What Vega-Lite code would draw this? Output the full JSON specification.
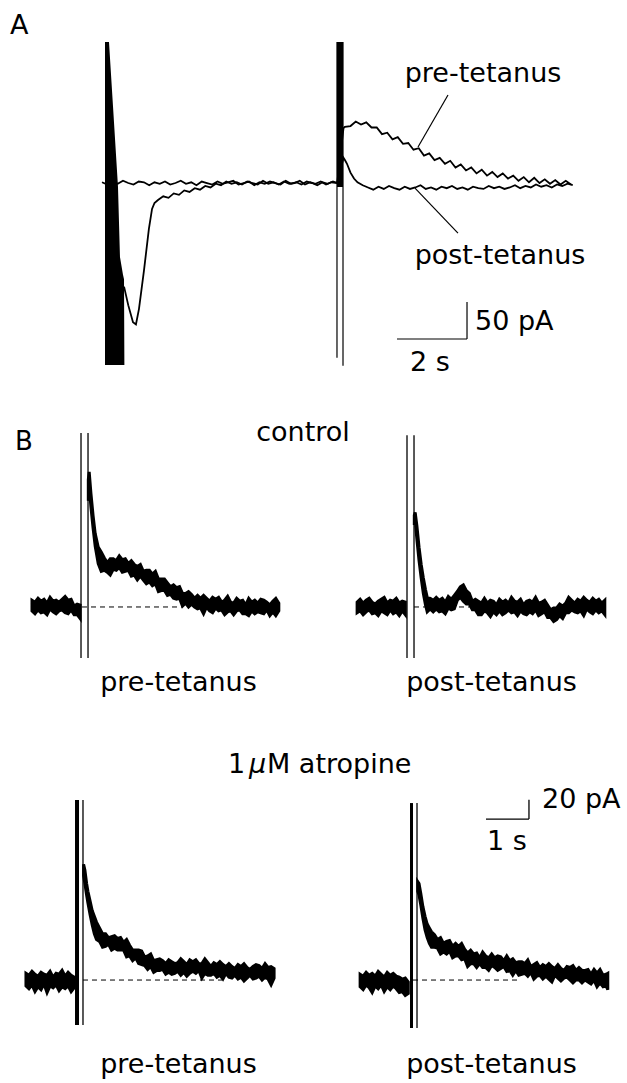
{
"$schema":"https://vega.github.io/schema/vega-lite/v6.json",
"padding":0,
"background":"white",
"spacing":0,
"bounds":"full",
"config":{"view":{"stroke":null},"text":{"font":"DejaVu Sans"}},
"datasets":{
"A_line":[
{"tr":"pre","t":0,"i":1},{"tr":"pre","t":0.15,"i":-2},{"tr":"pre","t":0.3,"i":2},{"tr":"pre","t":0.45,"i":-1},{"tr":"pre","t":0.6,"i":3},{"tr":"pre","t":0.75,"i":0},{"tr":"pre","t":0.9,"i":-2},{"tr":"pre","t":1.05,"i":2},{"tr":"pre","t":1.2,"i":1},{"tr":"pre","t":1.35,"i":-3},{"tr":"pre","t":1.5,"i":1},{"tr":"pre","t":1.65,"i":-1},{"tr":"pre","t":1.8,"i":2},{"tr":"pre","t":1.95,"i":-2},{"tr":"pre","t":2.1,"i":0},{"tr":"pre","t":2.25,"i":3},{"tr":"pre","t":2.4,"i":-1},{"tr":"pre","t":2.55,"i":1},{"tr":"pre","t":2.7,"i":-3},{"tr":"pre","t":2.85,"i":2},{"tr":"pre","t":3,"i":0},{"tr":"pre","t":3.15,"i":-2},{"tr":"pre","t":3.3,"i":2},{"tr":"pre","t":3.45,"i":-1},{"tr":"pre","t":3.6,"i":1},{"tr":"pre","t":3.75,"i":3},{"tr":"pre","t":3.9,"i":-2},{"tr":"pre","t":4.05,"i":0},{"tr":"pre","t":4.2,"i":2},{"tr":"pre","t":4.35,"i":-3},{"tr":"pre","t":4.5,"i":1},{"tr":"pre","t":4.65,"i":-1},{"tr":"pre","t":4.8,"i":2},{"tr":"pre","t":4.95,"i":0},{"tr":"pre","t":5.1,"i":-2},{"tr":"pre","t":5.25,"i":3},{"tr":"pre","t":5.4,"i":-1},{"tr":"pre","t":5.55,"i":1},{"tr":"pre","t":5.7,"i":-2},{"tr":"pre","t":5.85,"i":2},{"tr":"pre","t":6,"i":0},{"tr":"pre","t":6.15,"i":-3},{"tr":"pre","t":6.3,"i":1},{"tr":"pre","t":6.45,"i":-1},{"tr":"pre","t":6.6,"i":2},{"tr":"pre","t":6.72,"i":0},{"tr":"pre","t":6.9,"i":74},
{"tr":"pre","t":6.94,"i":76},{"tr":"pre","t":7.1,"i":77},{"tr":"pre","t":7.25,"i":83},{"tr":"pre","t":7.4,"i":79},{"tr":"pre","t":7.55,"i":82},{"tr":"pre","t":7.7,"i":75},{"tr":"pre","t":7.85,"i":75},{"tr":"pre","t":8,"i":66},{"tr":"pre","t":8.15,"i":68},{"tr":"pre","t":8.3,"i":59},{"tr":"pre","t":8.45,"i":62},{"tr":"pre","t":8.6,"i":53},{"tr":"pre","t":8.75,"i":54},{"tr":"pre","t":8.9,"i":45},{"tr":"pre","t":9.05,"i":47},{"tr":"pre","t":9.2,"i":37},{"tr":"pre","t":9.35,"i":40},{"tr":"pre","t":9.5,"i":31},{"tr":"pre","t":9.65,"i":34},{"tr":"pre","t":9.8,"i":26},{"tr":"pre","t":9.95,"i":30},{"tr":"pre","t":10.1,"i":21},{"tr":"pre","t":10.25,"i":25},{"tr":"pre","t":10.4,"i":17},{"tr":"pre","t":10.55,"i":21},{"tr":"pre","t":10.7,"i":13},{"tr":"pre","t":10.85,"i":18},{"tr":"pre","t":11,"i":10},{"tr":"pre","t":11.15,"i":15},{"tr":"pre","t":11.3,"i":8},{"tr":"pre","t":11.45,"i":13},{"tr":"pre","t":11.6,"i":6},{"tr":"pre","t":11.75,"i":10},{"tr":"pre","t":11.9,"i":3},{"tr":"pre","t":12.05,"i":8},{"tr":"pre","t":12.2,"i":1},{"tr":"pre","t":12.35,"i":7},{"tr":"pre","t":12.5,"i":0},{"tr":"pre","t":12.65,"i":5},{"tr":"pre","t":12.8,"i":-1},{"tr":"pre","t":12.95,"i":4},{"tr":"pre","t":13.1,"i":-2},{"tr":"pre","t":13.25,"i":3},{"tr":"pre","t":13.4,"i":-2},
{"tr":"post","t":0.63,"i":-140},{"tr":"post","t":0.75,"i":-165},{"tr":"post","t":0.886,"i":-188},{"tr":"post","t":0.97,"i":-191},{"tr":"post","t":1.057,"i":-170},{"tr":"post","t":1.2,"i":-118},{"tr":"post","t":1.34,"i":-62},{"tr":"post","t":1.43,"i":-35},{"tr":"post","t":1.5,"i":-27},{"tr":"post","t":1.6,"i":-23},{"tr":"post","t":1.75,"i":-18},{"tr":"post","t":1.9,"i":-20},{"tr":"post","t":2.05,"i":-14},{"tr":"post","t":2.2,"i":-16},{"tr":"post","t":2.35,"i":-10},{"tr":"post","t":2.5,"i":-12},{"tr":"post","t":2.65,"i":-7},{"tr":"post","t":2.8,"i":-9},{"tr":"post","t":2.95,"i":-4},{"tr":"post","t":3.1,"i":-6},{"tr":"post","t":3.25,"i":-1},{"tr":"post","t":3.4,"i":-3},{"tr":"post","t":3.55,"i":2},{"tr":"post","t":3.7,"i":-1},{"tr":"post","t":3.85,"i":1},{"tr":"post","t":4,"i":-2},{"tr":"post","t":4.15,"i":2},{"tr":"post","t":4.3,"i":0},{"tr":"post","t":4.45,"i":-2},{"tr":"post","t":4.6,"i":3},{"tr":"post","t":4.75,"i":-1},{"tr":"post","t":4.9,"i":1},{"tr":"post","t":5.05,"i":-2},{"tr":"post","t":5.2,"i":2},{"tr":"post","t":5.35,"i":-1},{"tr":"post","t":5.5,"i":0},{"tr":"post","t":5.65,"i":3},{"tr":"post","t":5.8,"i":-2},{"tr":"post","t":5.95,"i":1},{"tr":"post","t":6.1,"i":-1},{"tr":"post","t":6.25,"i":2},{"tr":"post","t":6.4,"i":-2},{"tr":"post","t":6.55,"i":1},{"tr":"post","t":6.72,"i":0},{"tr":"post","t":6.9,"i":34},{"tr":"post","t":6.94,"i":31},{"tr":"post","t":7,"i":26},{"tr":"post","t":7.1,"i":14},{"tr":"post","t":7.2,"i":6},{"tr":"post","t":7.3,"i":1},{"tr":"post","t":7.45,"i":-3},{"tr":"post","t":7.6,"i":-6},{"tr":"post","t":7.75,"i":-9},{"tr":"post","t":7.9,"i":-5},{"tr":"post","t":8.05,"i":-8},{"tr":"post","t":8.2,"i":-4},{"tr":"post","t":8.35,"i":-7},{"tr":"post","t":8.5,"i":-9},{"tr":"post","t":8.65,"i":-5},{"tr":"post","t":8.8,"i":-8},{"tr":"post","t":8.95,"i":-6},{"tr":"post","t":9.1,"i":-3},{"tr":"post","t":9.25,"i":-8},{"tr":"post","t":9.4,"i":-6},{"tr":"post","t":9.55,"i":-9},{"tr":"post","t":9.7,"i":-5},{"tr":"post","t":9.85,"i":-7},{"tr":"post","t":10,"i":-4},{"tr":"post","t":10.15,"i":-8},{"tr":"post","t":10.3,"i":-6},{"tr":"post","t":10.45,"i":-9},{"tr":"post","t":10.6,"i":-5},{"tr":"post","t":10.75,"i":-7},{"tr":"post","t":10.9,"i":-8},{"tr":"post","t":11.05,"i":-4},{"tr":"post","t":11.2,"i":-7},{"tr":"post","t":11.35,"i":-5},{"tr":"post","t":11.5,"i":-8},{"tr":"post","t":11.65,"i":-6},{"tr":"post","t":11.8,"i":-3},{"tr":"post","t":11.95,"i":-7},{"tr":"post","t":12.1,"i":-4},{"tr":"post","t":12.25,"i":-6},{"tr":"post","t":12.4,"i":-2},{"tr":"post","t":12.55,"i":-5},{"tr":"post","t":12.7,"i":-3},{"tr":"post","t":12.85,"i":-6},{"tr":"post","t":13,"i":-2},{"tr":"post","t":13.15,"i":-4},{"tr":"post","t":13.3,"i":-1},{"tr":"post","t":13.45,"i":-3}
],
"A_art1":[{"t":0.086,"top":190.5,"bot":-246},{"t":0.2,"top":190.5,"bot":-246},{"t":0.314,"top":104,"bot":-246},{"t":0.457,"top":-5,"bot":-246},{"t":0.514,"top":-100,"bot":-246},{"t":0.6,"top":-124,"bot":-246},{"t":0.629,"top":-130,"bot":-246},{"t":0.64,"top":-246,"bot":-246}],
"A_rect":[{"t":6.714,"t2":6.886,"i":190.5,"i2":-5.4}],
"A_seg":[{"t":6.714,"t2":6.714,"i":190.5,"i2":-236},{"t":6.886,"t2":6.886,"i":190.5,"i2":-247},{"t":8.429,"t2":10.429,"i":-210.8,"i2":-210.8},{"t":10.429,"t2":10.429,"i":-160.8,"i2":-210.8},{"t":9.886,"t2":9.029,"i":118.9,"i2":48.6},{"t":8.943,"t2":10.171,"i":-6.8,"i2":-67.6}],
"A_tc":[{"label":"pre-tetanus","t":10.886,"i":136.5},{"label":"post-tetanus","t":11.371,"i":-109.5}],
"A_tl":[{"label":"A","t":-2.629,"i":201.4},{"label":"50 pA","t":10.657,"i":-198.6},{"label":"2 s","t":8.8,"i":-254}],
"CL_band":[
{"s":"a","t":-1.14,"lo":-4,"hi":7},{"s":"a","t":-1.07,"lo":-7,"hi":5},{"s":"a","t":-1.0,"lo":-3,"hi":9},{"s":"a","t":-0.93,"lo":-6,"hi":6},{"s":"a","t":-0.86,"lo":-5,"hi":8},{"s":"a","t":-0.79,"lo":-8,"hi":4},{"s":"a","t":-0.72,"lo":-2,"hi":10},{"s":"a","t":-0.65,"lo":-5,"hi":6},{"s":"a","t":-0.58,"lo":-7,"hi":7},{"s":"a","t":-0.51,"lo":-4,"hi":5},{"s":"a","t":-0.44,"lo":-3,"hi":8},{"s":"a","t":-0.37,"lo":-6,"hi":11},{"s":"a","t":-0.3,"lo":-7,"hi":7},{"s":"a","t":-0.23,"lo":-3,"hi":8},{"s":"a","t":-0.16,"lo":-8,"hi":1},{"s":"a","t":-0.09,"lo":-8,"hi":3},{"s":"a","t":-0.02,"lo":-12,"hi":2},
{"s":"b","t":0.17,"lo":110,"hi":132},{"s":"b","t":0.19,"lo":125,"hi":140},{"s":"b","t":0.23,"lo":104,"hi":118},{"s":"b","t":0.28,"lo":82,"hi":95},{"s":"b","t":0.33,"lo":63,"hi":76},{"s":"b","t":0.4,"lo":45,"hi":62},{"s":"b","t":0.47,"lo":37,"hi":57},{"s":"b","t":0.54,"lo":38,"hi":51},{"s":"b","t":0.61,"lo":36,"hi":46},{"s":"b","t":0.68,"lo":33,"hi":50},{"s":"b","t":0.75,"lo":39,"hi":50},{"s":"b","t":0.82,"lo":38,"hi":48},{"s":"b","t":0.89,"lo":41,"hi":53},{"s":"b","t":0.96,"lo":36,"hi":49},{"s":"b","t":1.03,"lo":37,"hi":50},{"s":"b","t":1.1,"lo":38,"hi":45},{"s":"b","t":1.17,"lo":32,"hi":48},{"s":"b","t":1.24,"lo":33,"hi":44},{"s":"b","t":1.31,"lo":28,"hi":42},{"s":"b","t":1.38,"lo":32,"hi":44},{"s":"b","t":1.45,"lo":28,"hi":37},{"s":"b","t":1.52,"lo":24,"hi":38},{"s":"b","t":1.59,"lo":26,"hi":38},{"s":"b","t":1.66,"lo":22,"hi":34},{"s":"b","t":1.73,"lo":24,"hi":37},{"s":"b","t":1.8,"lo":16,"hi":29},{"s":"b","t":1.87,"lo":17,"hi":29},{"s":"b","t":1.94,"lo":17,"hi":29},{"s":"b","t":2.01,"lo":12,"hi":25},{"s":"b","t":2.08,"lo":13,"hi":21},{"s":"b","t":2.15,"lo":9,"hi":23},{"s":"b","t":2.22,"lo":8,"hi":20},{"s":"b","t":2.29,"lo":9,"hi":21},{"s":"b","t":2.36,"lo":1,"hi":14},{"s":"b","t":2.43,"lo":4,"hi":14},{"s":"b","t":2.5,"lo":0,"hi":16},{"s":"b","t":2.57,"lo":3,"hi":13},{"s":"b","t":2.64,"lo":0,"hi":9},{"s":"b","t":2.71,"lo":-2,"hi":12},{"s":"b","t":2.78,"lo":-1,"hi":9},{"s":"b","t":2.85,"lo":-7,"hi":12},{"s":"b","t":2.92,"lo":0,"hi":9},{"s":"b","t":2.99,"lo":-4,"hi":6},{"s":"b","t":3.06,"lo":-6,"hi":10},{"s":"b","t":3.13,"lo":-1,"hi":8},{"s":"b","t":3.2,"lo":-4,"hi":10},{"s":"b","t":3.27,"lo":-3,"hi":5},{"s":"b","t":3.34,"lo":-8,"hi":7},{"s":"b","t":3.41,"lo":-5,"hi":11},{"s":"b","t":3.48,"lo":-4,"hi":5},{"s":"b","t":3.55,"lo":-8,"hi":4},{"s":"b","t":3.62,"lo":-4,"hi":9},{"s":"b","t":3.69,"lo":-3,"hi":6},{"s":"b","t":3.76,"lo":-7,"hi":7},{"s":"b","t":3.83,"lo":-7,"hi":2},{"s":"b","t":3.9,"lo":-9,"hi":9},{"s":"b","t":3.97,"lo":-4,"hi":5},{"s":"b","t":4.04,"lo":-7,"hi":7},{"s":"b","t":4.11,"lo":-5,"hi":4},{"s":"b","t":4.18,"lo":-6,"hi":8},{"s":"b","t":4.25,"lo":-7,"hi":7},{"s":"b","t":4.32,"lo":-3,"hi":5},{"s":"b","t":4.39,"lo":-9,"hi":2},{"s":"b","t":4.46,"lo":-5,"hi":6},{"s":"b","t":4.53,"lo":-9,"hi":9},{"s":"b","t":4.6,"lo":-4,"hi":4}
],
"CL_seg":[{"t":0,"t2":0,"i":180.3,"i2":-52.8},{"t":0.163,"t2":0.163,"i":180.3,"i2":-52.8}],
"CL_dash":[{"t":0.023,"t2":2.35,"i":0,"i2":0}],
"CL_tc":[{"label":"control","t":5.163,"i":172},{"label":"pre-tetanus","t":2.267,"i":-87}],
"CL_tl":[{"label":"B","t":-1.535,"i":162.7}],
"CR_band":[
{"s":"a","t":-1.16,"lo":-6,"hi":5},{"s":"a","t":-1.09,"lo":-4,"hi":8},{"s":"a","t":-1.02,"lo":-8,"hi":4},{"s":"a","t":-0.95,"lo":-5,"hi":7},{"s":"a","t":-0.88,"lo":-3,"hi":9},{"s":"a","t":-0.81,"lo":-7,"hi":5},{"s":"a","t":-0.74,"lo":-6,"hi":3},{"s":"a","t":-0.67,"lo":-9,"hi":6},{"s":"a","t":-0.6,"lo":-4,"hi":8},{"s":"a","t":-0.53,"lo":-6,"hi":10},{"s":"a","t":-0.46,"lo":-8,"hi":4},{"s":"a","t":-0.39,"lo":-3,"hi":7},{"s":"a","t":-0.32,"lo":-7,"hi":6},{"s":"a","t":-0.25,"lo":-5,"hi":9},{"s":"a","t":-0.18,"lo":-9,"hi":4},{"s":"a","t":-0.11,"lo":-4,"hi":6},{"s":"a","t":-0.04,"lo":-8,"hi":5},
{"s":"b","t":0.17,"lo":85,"hi":95},{"s":"b","t":0.19,"lo":90,"hi":98},{"s":"b","t":0.23,"lo":70,"hi":84},{"s":"b","t":0.28,"lo":48,"hi":62},{"s":"b","t":0.33,"lo":30,"hi":44},{"s":"b","t":0.38,"lo":14,"hi":30},{"s":"b","t":0.43,"lo":2,"hi":18},{"s":"b","t":0.47,"lo":-5,"hi":10},{"s":"b","t":0.54,"lo":-2,"hi":9},{"s":"b","t":0.61,"lo":-5,"hi":7},{"s":"b","t":0.68,"lo":-2,"hi":10},{"s":"b","t":0.75,"lo":-5,"hi":7},{"s":"b","t":0.82,"lo":-4,"hi":9},{"s":"b","t":0.89,"lo":-7,"hi":5},{"s":"b","t":0.96,"lo":-1,"hi":11},{"s":"b","t":1.03,"lo":-3,"hi":8},{"s":"b","t":1.1,"lo":-2,"hi":12},{"s":"b","t":1.17,"lo":7,"hi":16},{"s":"b","t":1.24,"lo":10,"hi":21},{"s":"b","t":1.31,"lo":6,"hi":23},{"s":"b","t":1.38,"lo":3,"hi":17},{"s":"b","t":1.45,"lo":3,"hi":14},{"s":"b","t":1.52,"lo":-3,"hi":6},{"s":"b","t":1.59,"lo":-3,"hi":8},{"s":"b","t":1.66,"lo":-8,"hi":6},{"s":"b","t":1.73,"lo":-8,"hi":4},{"s":"b","t":1.8,"lo":-4,"hi":9},{"s":"b","t":1.87,"lo":-6,"hi":4},{"s":"b","t":1.94,"lo":-10,"hi":7},{"s":"b","t":2.01,"lo":-5,"hi":6},{"s":"b","t":2.08,"lo":-8,"hi":2},{"s":"b","t":2.15,"lo":-4,"hi":8},{"s":"b","t":2.22,"lo":-8,"hi":5},{"s":"b","t":2.29,"lo":-6,"hi":7},{"s":"b","t":2.36,"lo":-3,"hi":4},{"s":"b","t":2.43,"lo":-6,"hi":10},{"s":"b","t":2.5,"lo":-5,"hi":6},{"s":"b","t":2.57,"lo":-9,"hi":5},{"s":"b","t":2.64,"lo":-4,"hi":8},{"s":"b","t":2.71,"lo":-7,"hi":2},{"s":"b","t":2.78,"lo":-8,"hi":6},{"s":"b","t":2.85,"lo":-5,"hi":7},{"s":"b","t":2.92,"lo":-7,"hi":5},{"s":"b","t":2.99,"lo":-3,"hi":10},{"s":"b","t":3.06,"lo":-9,"hi":4},{"s":"b","t":3.13,"lo":-7,"hi":5},{"s":"b","t":3.2,"lo":-5,"hi":7},{"s":"b","t":3.27,"lo":-11,"hi":2},{"s":"b","t":3.34,"lo":-11,"hi":-3},{"s":"b","t":3.41,"lo":-15,"hi":-1},{"s":"b","t":3.48,"lo":-13,"hi":-1},{"s":"b","t":3.55,"lo":-9,"hi":3},{"s":"b","t":3.62,"lo":-12,"hi":1},{"s":"b","t":3.69,"lo":-6,"hi":4},{"s":"b","t":3.76,"lo":-6,"hi":10},{"s":"b","t":3.83,"lo":-3,"hi":7},{"s":"b","t":3.9,"lo":-5,"hi":4},{"s":"b","t":3.97,"lo":-6,"hi":8},{"s":"b","t":4.04,"lo":-4,"hi":6},{"s":"b","t":4.11,"lo":-9,"hi":10},{"s":"b","t":4.18,"lo":-2,"hi":7},{"s":"b","t":4.25,"lo":-5,"hi":5},{"s":"b","t":4.32,"lo":-7,"hi":9},{"s":"b","t":4.39,"lo":-3,"hi":6},{"s":"b","t":4.46,"lo":-6,"hi":8},{"s":"b","t":4.53,"lo":-4,"hi":4},{"s":"b","t":4.6,"lo":-8,"hi":7}
],
"CR_seg":[{"t":0,"t2":0,"i":178,"i2":-52.8},{"t":0.163,"t2":0.163,"i":178,"i2":-52.8}],
"CR_dash":[{"t":0.163,"t2":2.4,"i":0,"i2":0}],
"CR_tc":[{"label":"post-tetanus","t":1.965,"i":-87}],
"AL_band":[
{"s":"a","t":-1.14,"lo":-6,"hi":7},{"s":"a","t":-1.07,"lo":-9,"hi":5},{"s":"a","t":-1.0,"lo":-5,"hi":9},{"s":"a","t":-0.93,"lo":-12,"hi":6},{"s":"a","t":-0.86,"lo":-7,"hi":4},{"s":"a","t":-0.79,"lo":-10,"hi":8},{"s":"a","t":-0.72,"lo":-4,"hi":6},{"s":"a","t":-0.65,"lo":-13,"hi":5},{"s":"a","t":-0.58,"lo":-6,"hi":9},{"s":"a","t":-0.51,"lo":-8,"hi":3},{"s":"a","t":-0.44,"lo":-5,"hi":7},{"s":"a","t":-0.37,"lo":-11,"hi":6},{"s":"a","t":-0.3,"lo":-7,"hi":10},{"s":"a","t":-0.23,"lo":-9,"hi":4},{"s":"a","t":-0.16,"lo":-6,"hi":8},{"s":"a","t":-0.09,"lo":-12,"hi":5},{"s":"a","t":-0.02,"lo":-8,"hi":3},
{"s":"b","t":0.2,"lo":108,"hi":120},{"s":"b","t":0.23,"lo":100,"hi":114},{"s":"b","t":0.27,"lo":88,"hi":100},{"s":"b","t":0.3,"lo":80,"hi":92},{"s":"b","t":0.35,"lo":68,"hi":82},{"s":"b","t":0.4,"lo":57,"hi":72},{"s":"b","t":0.45,"lo":48,"hi":66},{"s":"b","t":0.5,"lo":42,"hi":60},{"s":"b","t":0.57,"lo":40,"hi":54},{"s":"b","t":0.64,"lo":34,"hi":48},{"s":"b","t":0.71,"lo":35,"hi":48},{"s":"b","t":0.78,"lo":37,"hi":44},{"s":"b","t":0.85,"lo":31,"hi":45},{"s":"b","t":0.92,"lo":33,"hi":46},{"s":"b","t":0.99,"lo":31,"hi":43},{"s":"b","t":1.06,"lo":31,"hi":44},{"s":"b","t":1.13,"lo":31,"hi":39},{"s":"b","t":1.2,"lo":24,"hi":42},{"s":"b","t":1.27,"lo":25,"hi":36},{"s":"b","t":1.34,"lo":20,"hi":31},{"s":"b","t":1.41,"lo":23,"hi":31},{"s":"b","t":1.48,"lo":17,"hi":31},{"s":"b","t":1.55,"lo":16,"hi":30},{"s":"b","t":1.62,"lo":15,"hi":24},{"s":"b","t":1.69,"lo":11,"hi":25},{"s":"b","t":1.76,"lo":14,"hi":27},{"s":"b","t":1.83,"lo":8,"hi":20},{"s":"b","t":1.9,"lo":10,"hi":21},{"s":"b","t":1.97,"lo":10,"hi":22},{"s":"b","t":2.04,"lo":11,"hi":20},{"s":"b","t":2.11,"lo":6,"hi":17},{"s":"b","t":2.18,"lo":8,"hi":21},{"s":"b","t":2.25,"lo":6,"hi":19},{"s":"b","t":2.32,"lo":7,"hi":17},{"s":"b","t":2.39,"lo":9,"hi":18},{"s":"b","t":2.46,"lo":5,"hi":22},{"s":"b","t":2.53,"lo":8,"hi":19},{"s":"b","t":2.6,"lo":4,"hi":16},{"s":"b","t":2.67,"lo":7,"hi":21},{"s":"b","t":2.74,"lo":9,"hi":19},{"s":"b","t":2.81,"lo":7,"hi":21},{"s":"b","t":2.88,"lo":10,"hi":17},{"s":"b","t":2.95,"lo":2,"hi":17},{"s":"b","t":3.02,"lo":7,"hi":22},{"s":"b","t":3.09,"lo":5,"hi":18},{"s":"b","t":3.16,"lo":5,"hi":14},{"s":"b","t":3.23,"lo":7,"hi":18},{"s":"b","t":3.3,"lo":3,"hi":16},{"s":"b","t":3.37,"lo":5,"hi":19},{"s":"b","t":3.44,"lo":1,"hi":16},{"s":"b","t":3.51,"lo":7,"hi":14},{"s":"b","t":3.58,"lo":3,"hi":17},{"s":"b","t":3.65,"lo":2,"hi":14},{"s":"b","t":3.72,"lo":5,"hi":12},{"s":"b","t":3.79,"lo":1,"hi":16},{"s":"b","t":3.86,"lo":3,"hi":14},{"s":"b","t":3.93,"lo":-1,"hi":17},{"s":"b","t":4.0,"lo":2,"hi":13},{"s":"b","t":4.07,"lo":5,"hi":11},{"s":"b","t":4.14,"lo":1,"hi":14},{"s":"b","t":4.21,"lo":2,"hi":16},{"s":"b","t":4.28,"lo":4,"hi":15},{"s":"b","t":4.35,"lo":0,"hi":12},{"s":"b","t":4.42,"lo":3,"hi":17},{"s":"b","t":4.49,"lo":1,"hi":13},{"s":"b","t":4.56,"lo":-5,"hi":14},{"s":"b","t":4.63,"lo":2,"hi":12}
],
"AL_seg":[{"t":0.186,"t2":0.186,"i":186.5,"i2":-46.6}],
"AL_thick":[{"t":0.047,"t2":0.047,"i":186.5,"i2":-46.6}],
"AL_dash":[{"t":0.186,"t2":3.42,"i":0,"i2":0}],
"AL_tc":[{"label":"pre-tetanus","t":2.407,"i":-96.4}],
"AL_tl":[{"label":"1","t":3.558,"i":214.5},{"label":"M atropine","t":4.465,"i":214.5}],
"AL_ti":[{"label":"μ","t":4.047,"i":214.5}],
"AR_band":[
{"s":"a","t":-1.16,"lo":-7,"hi":6},{"s":"a","t":-1.09,"lo":-10,"hi":4},{"s":"a","t":-1.02,"lo":-5,"hi":8},{"s":"a","t":-0.95,"lo":-8,"hi":5},{"s":"a","t":-0.88,"lo":-13,"hi":7},{"s":"a","t":-0.81,"lo":-6,"hi":4},{"s":"a","t":-0.74,"lo":-9,"hi":9},{"s":"a","t":-0.67,"lo":-5,"hi":6},{"s":"a","t":-0.6,"lo":-12,"hi":3},{"s":"a","t":-0.53,"lo":-7,"hi":8},{"s":"a","t":-0.46,"lo":-10,"hi":5},{"s":"a","t":-0.39,"lo":-6,"hi":7},{"s":"a","t":-0.32,"lo":-9,"hi":4},{"s":"a","t":-0.25,"lo":-13,"hi":3},{"s":"a","t":-0.18,"lo":-12,"hi":1},{"s":"a","t":-0.11,"lo":-16,"hi":2},{"s":"a","t":-0.04,"lo":-14,"hi":-2},
{"s":"b","t":0.18,"lo":92,"hi":102},{"s":"b","t":0.21,"lo":88,"hi":100},{"s":"b","t":0.25,"lo":78,"hi":90},{"s":"b","t":0.3,"lo":64,"hi":76},{"s":"b","t":0.35,"lo":52,"hi":66},{"s":"b","t":0.4,"lo":44,"hi":58},{"s":"b","t":0.45,"lo":38,"hi":54},{"s":"b","t":0.5,"lo":34,"hi":50},{"s":"b","t":0.57,"lo":34,"hi":47},{"s":"b","t":0.64,"lo":33,"hi":42},{"s":"b","t":0.71,"lo":27,"hi":44},{"s":"b","t":0.78,"lo":29,"hi":38},{"s":"b","t":0.85,"lo":27,"hi":40},{"s":"b","t":0.92,"lo":30,"hi":41},{"s":"b","t":0.99,"lo":23,"hi":35},{"s":"b","t":1.06,"lo":25,"hi":38},{"s":"b","t":1.13,"lo":25,"hi":35},{"s":"b","t":1.2,"lo":21,"hi":38},{"s":"b","t":1.27,"lo":22,"hi":32},{"s":"b","t":1.34,"lo":14,"hi":28},{"s":"b","t":1.41,"lo":17,"hi":31},{"s":"b","t":1.48,"lo":17,"hi":27},{"s":"b","t":1.55,"lo":13,"hi":28},{"s":"b","t":1.62,"lo":17,"hi":23},{"s":"b","t":1.69,"lo":13,"hi":29},{"s":"b","t":1.76,"lo":13,"hi":25},{"s":"b","t":1.83,"lo":10,"hi":23},{"s":"b","t":1.9,"lo":15,"hi":27},{"s":"b","t":1.97,"lo":13,"hi":23},{"s":"b","t":2.04,"lo":10,"hi":25},{"s":"b","t":2.11,"lo":12,"hi":24},{"s":"b","t":2.18,"lo":14,"hi":20},{"s":"b","t":2.25,"lo":9,"hi":25},{"s":"b","t":2.32,"lo":10,"hi":20},{"s":"b","t":2.39,"lo":5,"hi":22},{"s":"b","t":2.46,"lo":10,"hi":18},{"s":"b","t":2.53,"lo":5,"hi":19},{"s":"b","t":2.6,"lo":6,"hi":19},{"s":"b","t":2.67,"lo":7,"hi":17},{"s":"b","t":2.74,"lo":4,"hi":21},{"s":"b","t":2.81,"lo":8,"hi":14},{"s":"b","t":2.88,"lo":1,"hi":16},{"s":"b","t":2.95,"lo":4,"hi":18},{"s":"b","t":3.02,"lo":5,"hi":13},{"s":"b","t":3.09,"lo":1,"hi":16},{"s":"b","t":3.16,"lo":4,"hi":14},{"s":"b","t":3.23,"lo":1,"hi":17},{"s":"b","t":3.3,"lo":-2,"hi":14},{"s":"b","t":3.37,"lo":5,"hi":12},{"s":"b","t":3.44,"lo":2,"hi":16},{"s":"b","t":3.51,"lo":-1,"hi":12},{"s":"b","t":3.58,"lo":2,"hi":10},{"s":"b","t":3.65,"lo":3,"hi":14},{"s":"b","t":3.72,"lo":0,"hi":13},{"s":"b","t":3.79,"lo":-3,"hi":15},{"s":"b","t":3.86,"lo":0,"hi":10},{"s":"b","t":3.93,"lo":0,"hi":13},{"s":"b","t":4.0,"lo":-3,"hi":10},{"s":"b","t":4.07,"lo":0,"hi":10},{"s":"b","t":4.14,"lo":-2,"hi":11},{"s":"b","t":4.21,"lo":-4,"hi":6},{"s":"b","t":4.28,"lo":0,"hi":11},{"s":"b","t":4.35,"lo":-7,"hi":7},{"s":"b","t":4.42,"lo":-3,"hi":11},{"s":"b","t":4.49,"lo":-7,"hi":5},{"s":"b","t":4.56,"lo":-6,"hi":6},{"s":"b","t":4.6,"lo":-10,"hi":7}
],
"AR_seg":[{"t":0.163,"t2":0.163,"i":183.4,"i2":-49.7},{"t":1.767,"t2":2.767,"i":166.8,"i2":166.8},{"t":2.767,"t2":2.767,"i":166.8,"i2":186.8}],
"AR_thick":[{"t":0.035,"t2":0.035,"i":183.4,"i2":-49.7}],
"AR_dash":[{"t":0.07,"t2":2.49,"i":0,"i2":0}],
"AR_tc":[{"label":"post-tetanus","t":1.895,"i":-96.4}],
"AR_tl":[{"label":"20 pA","t":3.07,"i":178.2},{"label":"1 s","t":1.79,"i":134.7}]
},
"vconcat":[
{
"width":627,"height":400,
"layer":[
{"data":{"name":"A_art1"},"mark":{"type":"area","color":"black"},
 "encoding":{"x":{"field":"t","type":"quantitative","scale":{"domain":[-2.914,15],"nice":false},"axis":null},
 "y":{"field":"top","type":"quantitative","scale":{"domain":[-293.2,247.3],"nice":false},"axis":null,"stack":null},"y2":{"field":"bot"}}},
{"data":{"name":"A_rect"},"mark":{"type":"rect","color":"black"},
 "encoding":{"x":{"field":"t","type":"quantitative","scale":{"domain":[-2.914,15],"nice":false},"axis":null},"x2":{"field":"t2"},
 "y":{"field":"i","type":"quantitative","scale":{"domain":[-293.2,247.3],"nice":false},"axis":null},"y2":{"field":"i2"}}},
{"data":{"name":"A_line"},"mark":{"type":"line","color":"black","strokeWidth":1.8},
 "encoding":{"x":{"field":"t","type":"quantitative","scale":{"domain":[-2.914,15],"nice":false},"axis":null},
 "y":{"field":"i","type":"quantitative","scale":{"domain":[-293.2,247.3],"nice":false},"axis":null},"detail":{"field":"tr","type":"nominal"}}},
{"data":{"name":"A_seg"},"mark":{"type":"rule","color":"black","strokeWidth":1.2},
 "encoding":{"x":{"field":"t","type":"quantitative","scale":{"domain":[-2.914,15],"nice":false},"axis":null},"x2":{"field":"t2"},
 "y":{"field":"i","type":"quantitative","scale":{"domain":[-293.2,247.3],"nice":false},"axis":null},"y2":{"field":"i2"}}},
{"data":{"name":"A_tc"},"mark":{"type":"text","align":"center","baseline":"alphabetic","font":"DejaVu Sans","fontSize":27,"color":"black"},
 "encoding":{"x":{"field":"t","type":"quantitative","scale":{"domain":[-2.914,15],"nice":false},"axis":null},
 "y":{"field":"i","type":"quantitative","scale":{"domain":[-293.2,247.3],"nice":false},"axis":null},"text":{"field":"label"}}},
{"data":{"name":"A_tl"},"mark":{"type":"text","align":"left","baseline":"alphabetic","font":"DejaVu Sans","fontSize":27,"color":"black"},
 "encoding":{"x":{"field":"t","type":"quantitative","scale":{"domain":[-2.914,15],"nice":false},"axis":null},
 "y":{"field":"i","type":"quantitative","scale":{"domain":[-293.2,247.3],"nice":false},"axis":null},"text":{"field":"label"}}}
]
},
{
"hconcat":[
{
"width":313,"height":341,
"layer":[
{"data":{"name":"CL_dash"},"mark":{"type":"rule","color":"black","strokeWidth":1,"strokeDash":[5,4]},
 "encoding":{"x":{"field":"t","type":"quantitative","scale":{"domain":[-1.884,5.395],"nice":false},"axis":null},"x2":{"field":"t2"},
 "y":{"field":"i","type":"quantitative","scale":{"domain":[-138.9,214.5],"nice":false},"axis":null},"y2":{"field":"i2"}}},
{"data":{"name":"CL_band"},"mark":{"type":"area","color":"black","stroke":"black","strokeWidth":3,"strokeJoin":"miter"},
 "encoding":{"x":{"field":"t","type":"quantitative","scale":{"domain":[-1.884,5.395],"nice":false},"axis":null},
 "y":{"field":"lo","type":"quantitative","scale":{"domain":[-138.9,214.5],"nice":false},"axis":null,"stack":null},"y2":{"field":"hi"},"detail":{"field":"s","type":"nominal"}}},
{"data":{"name":"CL_seg"},"mark":{"type":"rule","color":"black","strokeWidth":1.3},
 "encoding":{"x":{"field":"t","type":"quantitative","scale":{"domain":[-1.884,5.395],"nice":false},"axis":null},"x2":{"field":"t2"},
 "y":{"field":"i","type":"quantitative","scale":{"domain":[-138.9,214.5],"nice":false},"axis":null},"y2":{"field":"i2"}}},
{"data":{"name":"CL_tc"},"mark":{"type":"text","align":"center","baseline":"alphabetic","font":"DejaVu Sans","fontSize":27,"color":"black"},
 "encoding":{"x":{"field":"t","type":"quantitative","scale":{"domain":[-1.884,5.395],"nice":false},"axis":null},
 "y":{"field":"i","type":"quantitative","scale":{"domain":[-138.9,214.5],"nice":false},"axis":null},"text":{"field":"label"}}},
{"data":{"name":"CL_tl"},"mark":{"type":"text","align":"left","baseline":"alphabetic","font":"DejaVu Sans","fontSize":26,"color":"black"},
 "encoding":{"x":{"field":"t","type":"quantitative","scale":{"domain":[-1.884,5.395],"nice":false},"axis":null},
 "y":{"field":"i","type":"quantitative","scale":{"domain":[-138.9,214.5],"nice":false},"axis":null},"text":{"field":"label"}}}
]
},
{
"width":314,"height":341,
"layer":[
{"data":{"name":"CR_dash"},"mark":{"type":"rule","color":"black","strokeWidth":1,"strokeDash":[5,4]},
 "encoding":{"x":{"field":"t","type":"quantitative","scale":{"domain":[-2.186,5.116],"nice":false},"axis":null},"x2":{"field":"t2"},
 "y":{"field":"i","type":"quantitative","scale":{"domain":[-138.9,214.5],"nice":false},"axis":null},"y2":{"field":"i2"}}},
{"data":{"name":"CR_band"},"mark":{"type":"area","color":"black","stroke":"black","strokeWidth":3,"strokeJoin":"miter"},
 "encoding":{"x":{"field":"t","type":"quantitative","scale":{"domain":[-2.186,5.116],"nice":false},"axis":null},
 "y":{"field":"lo","type":"quantitative","scale":{"domain":[-138.9,214.5],"nice":false},"axis":null,"stack":null},"y2":{"field":"hi"},"detail":{"field":"s","type":"nominal"}}},
{"data":{"name":"CR_seg"},"mark":{"type":"rule","color":"black","strokeWidth":1.3},
 "encoding":{"x":{"field":"t","type":"quantitative","scale":{"domain":[-2.186,5.116],"nice":false},"axis":null},"x2":{"field":"t2"},
 "y":{"field":"i","type":"quantitative","scale":{"domain":[-138.9,214.5],"nice":false},"axis":null},"y2":{"field":"i2"}}},
{"data":{"name":"CR_tc"},"mark":{"type":"text","align":"center","baseline":"alphabetic","font":"DejaVu Sans","fontSize":27,"color":"black"},
 "encoding":{"x":{"field":"t","type":"quantitative","scale":{"domain":[-2.186,5.116],"nice":false},"axis":null},
 "y":{"field":"i","type":"quantitative","scale":{"domain":[-138.9,214.5],"nice":false},"axis":null},"text":{"field":"label"}}}
]
}
],
"spacing":0,"bounds":"flush"
},
{
"hconcat":[
{
"width":313,"height":342,
"layer":[
{"data":{"name":"AL_dash"},"mark":{"type":"rule","color":"black","strokeWidth":1,"strokeDash":[5,4]},
 "encoding":{"x":{"field":"t","type":"quantitative","scale":{"domain":[-1.744,5.535],"nice":false},"axis":null},"x2":{"field":"t2"},
 "y":{"field":"i","type":"quantitative","scale":{"domain":[-106.7,247.7],"nice":false},"axis":null},"y2":{"field":"i2"}}},
{"data":{"name":"AL_band"},"mark":{"type":"area","color":"black","stroke":"black","strokeWidth":3,"strokeJoin":"miter"},
 "encoding":{"x":{"field":"t","type":"quantitative","scale":{"domain":[-1.744,5.535],"nice":false},"axis":null},
 "y":{"field":"lo","type":"quantitative","scale":{"domain":[-106.7,247.7],"nice":false},"axis":null,"stack":null},"y2":{"field":"hi"},"detail":{"field":"s","type":"nominal"}}},
{"data":{"name":"AL_seg"},"mark":{"type":"rule","color":"black","strokeWidth":1.3},
 "encoding":{"x":{"field":"t","type":"quantitative","scale":{"domain":[-1.744,5.535],"nice":false},"axis":null},"x2":{"field":"t2"},
 "y":{"field":"i","type":"quantitative","scale":{"domain":[-106.7,247.7],"nice":false},"axis":null},"y2":{"field":"i2"}}},
{"data":{"name":"AL_thick"},"mark":{"type":"rule","color":"black","strokeWidth":4},
 "encoding":{"x":{"field":"t","type":"quantitative","scale":{"domain":[-1.744,5.535],"nice":false},"axis":null},"x2":{"field":"t2"},
 "y":{"field":"i","type":"quantitative","scale":{"domain":[-106.7,247.7],"nice":false},"axis":null},"y2":{"field":"i2"}}},
{"data":{"name":"AL_tc"},"mark":{"type":"text","align":"center","baseline":"alphabetic","font":"DejaVu Sans","fontSize":27,"color":"black"},
 "encoding":{"x":{"field":"t","type":"quantitative","scale":{"domain":[-1.744,5.535],"nice":false},"axis":null},
 "y":{"field":"i","type":"quantitative","scale":{"domain":[-106.7,247.7],"nice":false},"axis":null},"text":{"field":"label"}}},
{"data":{"name":"AL_tl"},"mark":{"type":"text","align":"left","baseline":"alphabetic","font":"DejaVu Sans","fontSize":27,"color":"black"},
 "encoding":{"x":{"field":"t","type":"quantitative","scale":{"domain":[-1.744,5.535],"nice":false},"axis":null},
 "y":{"field":"i","type":"quantitative","scale":{"domain":[-106.7,247.7],"nice":false},"axis":null},"text":{"field":"label"}}},
{"data":{"name":"AL_ti"},"mark":{"type":"text","align":"left","baseline":"alphabetic","font":"DejaVu Sans","fontSize":27,"fontStyle":"italic","color":"black"},
 "encoding":{"x":{"field":"t","type":"quantitative","scale":{"domain":[-1.744,5.535],"nice":false},"axis":null},
 "y":{"field":"i","type":"quantitative","scale":{"domain":[-106.7,247.7],"nice":false},"axis":null},"text":{"field":"label"}}}
]
},
{
"width":314,"height":342,
"layer":[
{"data":{"name":"AR_dash"},"mark":{"type":"rule","color":"black","strokeWidth":1,"strokeDash":[5,4]},
 "encoding":{"x":{"field":"t","type":"quantitative","scale":{"domain":[-2.256,5.047],"nice":false},"axis":null},"x2":{"field":"t2"},
 "y":{"field":"i","type":"quantitative","scale":{"domain":[-106.7,247.7],"nice":false},"axis":null},"y2":{"field":"i2"}}},
{"data":{"name":"AR_band"},"mark":{"type":"area","color":"black","stroke":"black","strokeWidth":3,"strokeJoin":"miter"},
 "encoding":{"x":{"field":"t","type":"quantitative","scale":{"domain":[-2.256,5.047],"nice":false},"axis":null},
 "y":{"field":"lo","type":"quantitative","scale":{"domain":[-106.7,247.7],"nice":false},"axis":null,"stack":null},"y2":{"field":"hi"},"detail":{"field":"s","type":"nominal"}}},
{"data":{"name":"AR_seg"},"mark":{"type":"rule","color":"black","strokeWidth":1.3},
 "encoding":{"x":{"field":"t","type":"quantitative","scale":{"domain":[-2.256,5.047],"nice":false},"axis":null},"x2":{"field":"t2"},
 "y":{"field":"i","type":"quantitative","scale":{"domain":[-106.7,247.7],"nice":false},"axis":null},"y2":{"field":"i2"}}},
{"data":{"name":"AR_thick"},"mark":{"type":"rule","color":"black","strokeWidth":3},
 "encoding":{"x":{"field":"t","type":"quantitative","scale":{"domain":[-2.256,5.047],"nice":false},"axis":null},"x2":{"field":"t2"},
 "y":{"field":"i","type":"quantitative","scale":{"domain":[-106.7,247.7],"nice":false},"axis":null},"y2":{"field":"i2"}}},
{"data":{"name":"AR_tc"},"mark":{"type":"text","align":"center","baseline":"alphabetic","font":"DejaVu Sans","fontSize":27,"color":"black"},
 "encoding":{"x":{"field":"t","type":"quantitative","scale":{"domain":[-2.256,5.047],"nice":false},"axis":null},
 "y":{"field":"i","type":"quantitative","scale":{"domain":[-106.7,247.7],"nice":false},"axis":null},"text":{"field":"label"}}},
{"data":{"name":"AR_tl"},"mark":{"type":"text","align":"left","baseline":"alphabetic","font":"DejaVu Sans","fontSize":27,"color":"black"},
 "encoding":{"x":{"field":"t","type":"quantitative","scale":{"domain":[-2.256,5.047],"nice":false},"axis":null},
 "y":{"field":"i","type":"quantitative","scale":{"domain":[-106.7,247.7],"nice":false},"axis":null},"text":{"field":"label"}}}
]
}
],
"spacing":0,"bounds":"flush"
}
]
}
